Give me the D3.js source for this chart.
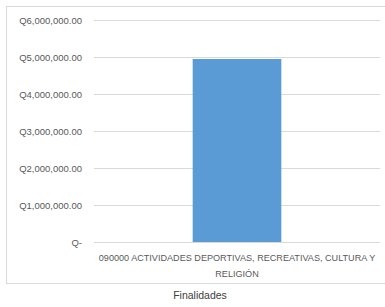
<!DOCTYPE html>
<html>
<head>
  <script src="https://d3js.org/d3.v7.min.js"></script>
  <style>
    body { margin: 0; background: #fff; }
    .chart { font-family: "Liberation Sans", sans-serif; }
    .axis text { fill: #595959; font-size: 9.5px; }
    .grid line { stroke: #d9d9d9; stroke-width: 1; }
    .cat-label { fill: #595959; font-size: 9.1px; }
    .title { fill: #404040; font-size: 10.5px; }
  </style>
</head>
<body>
  <div id="viz"></div>
  <script>
    const categories = ["090000 ACTIVIDADES DEPORTIVAS, RECREATIVAS, CULTURA Y RELIGIÓN"];
    const categoryLines = [["090000 ACTIVIDADES DEPORTIVAS, RECREATIVAS, CULTURA Y", "RELIGIÓN"]];
    const values = [4946000];
    const tickValues = [0, 1000000, 2000000, 3000000, 4000000, 5000000, 6000000];
    const tickLabels = ["Q-", "Q1,000,000.00", "Q2,000,000.00", "Q3,000,000.00", "Q4,000,000.00", "Q5,000,000.00", "Q6,000,000.00"];

    const W = 385, H = 307;
    const margin = { top: 20, right: 5, bottom: 65, left: 94 },
      width = W - margin.left - margin.right,
      height = H - margin.top - margin.bottom;

    const root = d3.select("#viz")
      .append("svg")
      .attr("class", "chart")
      .attr("width", W)
      .attr("height", H);

    // outer chart border
    root.append("rect")
      .attr("x", 6.5)
      .attr("y", 6.5)
      .attr("width", 390)
      .attr("height", 277)
      .attr("fill", "none")
      .attr("stroke", "#d9d9d9");

    const svg = root.append("g")
      .attr("transform", `translate(${margin.left},${margin.top})`);

    const x = d3.scaleBand()
      .domain(categories)
      .range([0, 286])
      .paddingInner(0.69)
      .paddingOuter(0.345);

    const y = d3.scaleLinear()
      .domain([0, 6000000])
      .range([height, 0]);

    // gridlines
    svg.append("g")
      .attr("class", "grid")
      .selectAll("line")
      .data(tickValues)
      .enter().append("line")
      .attr("x1", 0)
      .attr("x2", 286)
      .attr("y1", d => Math.round(y(d)) + 0.5)
      .attr("y2", d => Math.round(y(d)) + 0.5);

    // y axis labels
    const yAxis = d3.axisLeft(y)
      .tickValues(tickValues)
      .tickFormat((d, i) => tickLabels[i])
      .tickSize(0)
      .tickPadding(12);
    svg.append("g")
      .attr("class", "axis")
      .call(yAxis)
      .call(g => g.select(".domain").remove());

    // bars
    svg.append("g")
      .selectAll("rect")
      .data(values)
      .enter().append("rect")
      .attr("x", (d, i) => x(categories[i]))
      .attr("y", d => y(d))
      .attr("width", x.bandwidth())
      .attr("height", d => y(0) - y(d))
      .attr("fill", "#5b9bd5");

    // category labels
    categoryLines.forEach((lines, i) => {
      const cx = x(categories[i]) + x.bandwidth() / 2;
      svg.append("text")
        .attr("class", "cat-label")
        .attr("text-anchor", "middle")
        .attr("x", cx)
        .attr("y", height + 19)
        .selectAll("tspan")
        .data(lines)
        .enter().append("tspan")
        .attr("x", cx)
        .attr("dy", (d, j) => j === 0 ? 0 : 15.5)
        .text(d => d);
    });

    // axis title
    root.append("text")
      .attr("class", "title")
      .attr("text-anchor", "middle")
      .attr("x", 200)
      .attr("y", 299)
      .text("Finalidades");
  </script>
</body>
</html>
